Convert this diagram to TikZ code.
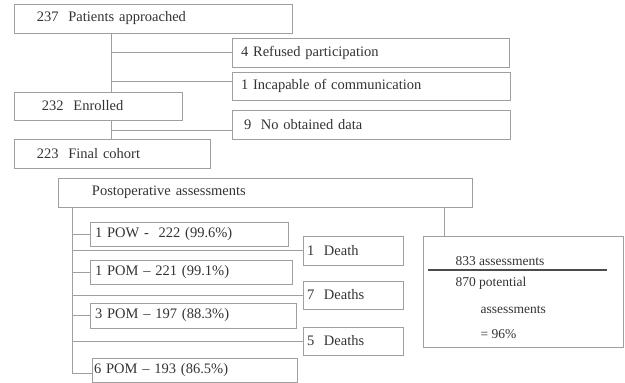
\documentclass[tikz,border=0pt]{standalone}
\usepackage{fontspec}
\setmainfont{Liberation Serif}
\newcommand{\flowbox}[7]{\node[flowbox, text width = {(#4-#2)*1pt}, minimum height = {(#5-#3)*1pt}] (#1) at (#2, #3) {\hspace*{#6pt}#7};}

\begin{document}
\begin{tikzpicture}[x = 1pt, y = -1pt, every node/.style = {font = \fontsize{14.5}{17}\selectfont, text = black!80},
	flowbox/.style = {rectangle, draw = gray!75, line width = 0.8pt, anchor = north west, inner xsep = 0pt, inner ysep = 0pt, outer sep = 0pt, align = left},
	link/.style = {draw = gray!75, line width = 0.8pt}]
	\useasboundingbox (0, 0) rectangle (625, 383);
	% enrolment
	\flowbox{appr}{14}{4}{292}{33}{23}{237\ \ Patients approached}
	\flowbox{refused}{232}{38}{509}{67}{9}{4 Refused participation}
	\flowbox{incap}{232}{72}{510}{100}{9}{1 Incapable of communication}
	\flowbox{enrol}{14}{92}{182}{120}{28}{232\ \ Enrolled}
	\flowbox{nodata}{232}{110}{510}{139}{12}{9\ \ No obtained data}
	\flowbox{final}{14}{139}{210}{168}{23}{223\ \ Final cohort}
	% follow-up
	\flowbox{post}{58}{178}{472}{207}{34}{Postoperative assessments}
	\flowbox{pow}{90}{222}{288}{246}{5}{1 POW -\ \ 222 (99.6\%)}
	\flowbox{pomA}{90}{260}{292}{284}{5}{1 POM -- 221 (99.1\%)}
	\flowbox{pomB}{90}{303}{296}{328}{5}{3 POM -- 197 (88.3\%)}
	\flowbox{pomC}{92}{358}{297}{382}{2}{6 POM -- 193 (86.5\%)}
	\flowbox{deathA}{303}{236}{403}{265}{4}{1\ \ Death}
	\flowbox{deathB}{303}{281}{403}{309}{4}{7\ \ Deaths}
	\flowbox{deathC}{303}{327}{403}{355}{4}{5\ \ Deaths}
	\flowbox{ratio}{423}{236}{623}{347}{0}{}
	\node[anchor = west, font = \fontsize{13.5}{16}\selectfont] (num) at (452, 261) {833 assessments};
	\node[anchor = west, font = \fontsize{13.5}{16}\selectfont] (den) at (452, 283) {870 potential};
	\node[anchor = west, font = \fontsize{13.5}{16}\selectfont] (denB) at (477, 310) {assessments};
	\node[anchor = west, font = \fontsize{13.5}{16}\selectfont] (pct) at (477, 334) {= 96\%};
	\draw[line width = 1.2pt, gray!60!black] (428, 270) -- (607, 270);

	\coordinate (spineA) at ([xshift = 97pt]appr.south west);
	\coordinate (spineC) at ([xshift = 14pt]post.south west);
	\coordinate (spineD) at ([xshift = 386pt]post.south west);
	\path[link] (spineA) -- (spineA |- enrol.north);
	\path[link] ([xshift = 97pt]enrol.south west) -- ([xshift = 97pt]final.north west);
	\path[link] (spineA |- refused.west) -- (refused.west);
	\path[link] (spineA |- 0, 81) -- ([yshift = 5pt]incap.west);
	\path[link] (spineA |- 0, 130) -- ([yshift = -5.5pt]nodata.west);
	\path[link] (spineC) -- (spineC |- 0, 373) -- ([yshift = -3pt]pomC.west);
	\foreach \to in {pow, pomA, pomB, deathA, deathB, deathC}
		\path[link] (spineC |- \to.west) -- (\to.west);
	\path[link] (spineD) -- (spineD |- ratio.north);
\end{tikzpicture}
\end{document}
